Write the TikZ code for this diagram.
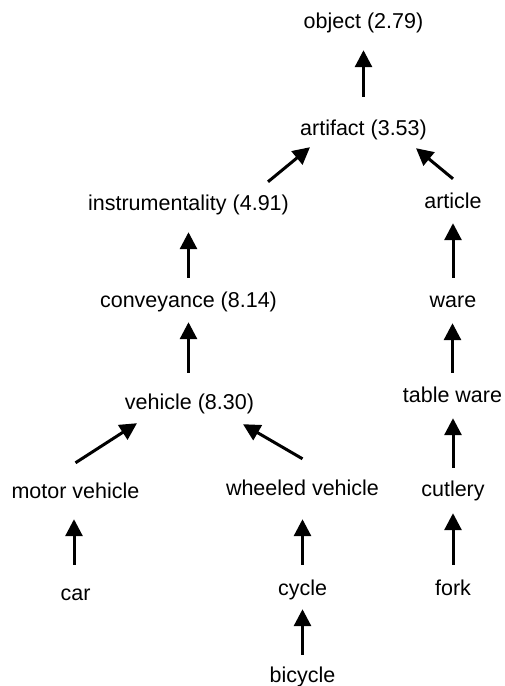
\documentclass[tikz,border=0pt]{standalone}
\usepackage{fontspec}
\setmainfont{Liberation Sans}
\usetikzlibrary{arrows.meta}
\begin{document}
\begin{tikzpicture}[x=1pt,y=-1pt,
  term/.style={anchor=base,inner sep=0pt,text height=15pt,text depth=4pt,
    font=\fontsize{21.5}{25}\selectfont},
  isa/.style={line width=3pt,-{Triangle[width=17pt,length=17pt]}}]
\useasboundingbox (0,0) rectangle (504,686);
% taxonomy terms
\node[term] (object)   at (363.5,28)  {object (2.79)};
\node[term] (artifact) at (363.5,135) {artifact (3.53)};
\node[term] (instr)    at (188.5,210) {instrumentality (4.91)};
\node[term] (article)  at (453,208)   {article};
\node[term] (convey)   at (188.5,307) {conveyance (8.14)};
\node[term] (ware)     at (453,307)   {ware};
\node[term] (vehicle)  at (189.5,409) {vehicle (8.30)};
\node[term] (table)    at (452.5,402) {table ware};
\node[term] (motor)    at (75.5,498)  {motor vehicle};
\node[term] (wheeled)  at (302.5,495) {wheeled vehicle};
\node[term] (cutlery)  at (453,496)   {cutlery};
\node[term] (car)      at (75.5,600)  {car};
\node[term] (cycle)    at (302.5,595) {cycle};
\node[term] (fork)     at (453,595)   {fork};
\node[term] (bicycle)  at (302.5,682) {bicycle};
% is-a links, child to parent
\draw[isa] ([yshift=23pt]artifact.north) -- ([yshift=-18pt]object.south);
\draw[isa] ([xshift=79.5pt,yshift=13pt]instr.north) -- ([xshift=-53.5pt,yshift=-8pt]artifact.south);
\draw[isa] ([yshift=14pt]article.north) -- ([xshift=52.5pt,yshift=-9pt]artifact.south);
\draw[isa] ([yshift=14pt]convey.north) -- ([yshift=-18pt]instr.south);
\draw[isa] ([yshift=14pt]ware.north) -- ([yshift=-11pt]article.south);
\draw[isa] ([xshift=-1pt,yshift=21pt]vehicle.north) -- ([yshift=-11pt]convey.south);
\draw[isa] ([yshift=14pt]table.north) -- ([xshift=-0.5pt,yshift=-12pt]ware.south);
\draw[isa] ([yshift=20pt]motor.north) -- ([xshift=-52.5pt,yshift=-10pt]vehicle.south);
\draw[isa] ([yshift=21pt]wheeled.north) -- ([xshift=53.5pt,yshift=-11pt]vehicle.south);
\draw[isa] ([yshift=13pt]cutlery.north) -- ([xshift=0.5pt,yshift=-12pt]table.south);
\draw[isa] ([xshift=-1.5pt,yshift=20pt]car.north) -- ([xshift=-1.5pt,yshift=-17pt]motor.south);
\draw[isa] ([yshift=15pt]cycle.north) -- ([yshift=-20pt]wheeled.south);
\draw[isa] ([yshift=15pt]fork.north) -- ([yshift=-13pt]cutlery.south);
\draw[isa] ([yshift=12pt]bicycle.north) -- ([yshift=-10pt]cycle.south);
\end{tikzpicture}
\end{document}
